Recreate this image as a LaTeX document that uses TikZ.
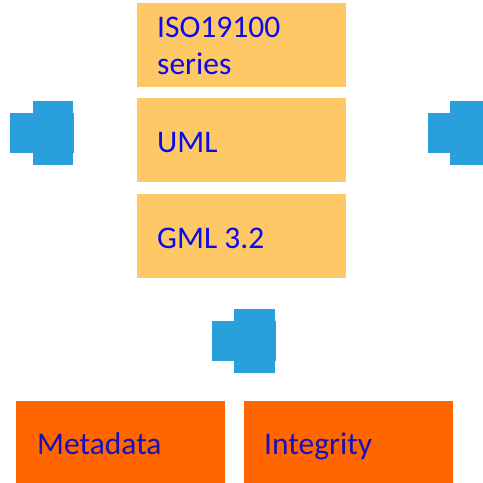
\documentclass[tikz,border=0pt]{standalone}
\usepackage{fontspec}
\setmainfont{Carlito}
\definecolor{paleorange}{RGB}{255,200,102}
\definecolor{deeporange}{RGB}{255,102,0}
\definecolor{arrowblue}{RGB}{41,160,219}
\definecolor{labelblue}{RGB}{10,10,235}
\definecolor{darklabelblue}{RGB}{25,15,185}
\begin{document}
\begin{tikzpicture}[x=1pt,y=-1pt,
  topbox/.style={fill=paleorange,draw=none},
  basebox/.style={fill=deeporange,draw=none},
  jigsaw/.style={fill=arrowblue,draw=none},
  label/.style={font=\fontsize{31.5}{37}\selectfont,text=labelblue,anchor=base west,inner sep=0pt,align=left}]
\useasboundingbox (0,0) rectangle (483,483);
% standards stack
\fill[topbox] (137,3) rectangle (346,87);
\fill[topbox] (137,98) rectangle (346,182);
\fill[topbox] (137,194) rectangle (346,278);
\node[label] (iso) at (157,37) {ISO19100};
\node[label] (series) at (157,74) {series};
\node[label] (uml) at (157,152.5) {UML};
\node[label] (gml) at (157,248.5) {GML 3.2};
% outcome boxes
\fill[basebox] (16,401) rectangle (225,483);
\fill[basebox] (244,401) rectangle (453,483);
\node[label,text=darklabelblue] (meta) at (37,454) {Metadata};
\node[label,text=darklabelblue] (integ) at (264,454) {Integrity};
% blue connector blocks
\fill[jigsaw] (9.5,113) rectangle (74,153);
\fill[jigsaw] (32.5,101) rectangle (73,165);
\fill[jigsaw] (427.5,113) rectangle (483,153);
\fill[jigsaw] (450,101) rectangle (483,165);
\fill[jigsaw] (211.5,321) rectangle (276,361);
\fill[jigsaw] (234,309) rectangle (275,373);
\end{tikzpicture}
\end{document}
